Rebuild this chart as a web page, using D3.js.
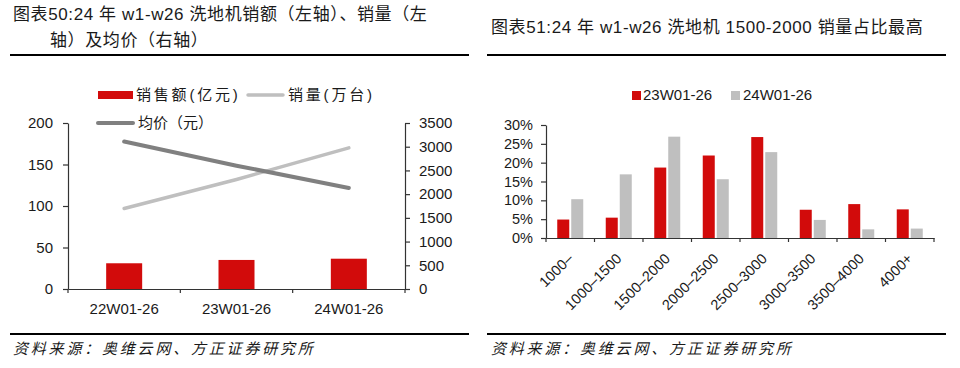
<!DOCTYPE html>
<html><head><meta charset="utf-8">
<script src="https://cdn.jsdelivr.net/npm/d3@7"></script>
<style>
body{margin:0;background:#fff;}
svg{display:block;}
text{font-family:"Liberation Sans","Noto Sans CJK SC",sans-serif;fill:#1a1a1a;}
</style></head>
<body>
<svg id="c" width="960" height="368"></svg>
<script>
// ---- Left chart data ----
const periods = ["22W01-26","23W01-26","24W01-26"];
const salesAmount = [31, 35, 36.5];      // 销售额(亿元) left axis
const salesVolume = [97, 132, 170];      // 销量(万台) left axis
const avgPrice = [3110, 2600, 2130];     // 均价(元) right axis
const leftTicks = [0,50,100,150,200];
const rightTicks = [0,500,1000,1500,2000,2500,3000,3500];

// ---- Right chart data ----
const priceBands = ["1000–","1000–1500","1500–2000","2000–2500","2500–3000","3000–3500","3500–4000","4000+"];
const share23 = [4.9, 5.4, 18.7, 21.9, 26.8, 7.5, 9.0, 7.6];
const share24 = [10.3, 16.9, 26.9, 15.6, 22.8, 4.8, 2.3, 2.5];
const pctTicks = [0,5,10,15,20,25,30];

const RED = "#D20B0B", LGRAY = "#BFBFBF", DGRAY = "#808080", AX = "#333";
const svg = d3.select("#c");

// ---------- Titles & rules ----------
function title(x, y, str){ svg.append("text").attr("x",x).attr("y",y).attr("font-size",17).attr("letter-spacing","0.6px").attr("fill","#222").text(str); }
title(13, 20, "图表50:24 年 w1-w26 洗地机销额（左轴）、销量（左");
title(50, 46, "轴）及均价（右轴）");
title(491, 33, "图表51:24 年 w1-w26 洗地机 1500-2000 销量占比最高");
[[10,469],[487,946]].forEach(([a,b])=>{
  svg.append("line").attr("x1",a).attr("x2",b).attr("y1",55).attr("y2",55).attr("stroke","#000").attr("stroke-width",2);
  svg.append("line").attr("x1",a).attr("x2",b).attr("y1",334).attr("y2",334).attr("stroke","#000").attr("stroke-width",2);
});
[13,491].forEach(x=>{
  svg.append("text").attr("x",x).attr("y",354).attr("font-size",15).attr("font-style","italic")
    .attr("letter-spacing","2.8px").attr("fill","#222").text("资料来源：奥维云网、方正证券研究所");
});

// ---------- Left chart ----------
const x = d3.scaleBand().domain(periods).range([68,405]).padding(0);
const yL = d3.scaleLinear().domain([0,200]).range([289,123]);
const yR = d3.scaleLinear().domain([0,3500]).range([289,123]);
const barW = 36;

svg.append("g").selectAll("rect").data(periods).join("rect")
  .attr("x",d=>x(d)+x.bandwidth()/2-barW/2).attr("width",barW)
  .attr("y",(d,i)=>yL(salesAmount[i])).attr("height",(d,i)=>yL(0)-yL(salesAmount[i]))
  .attr("fill",RED);

const lineL = d3.line().x((d,i)=>x(periods[i])+x.bandwidth()/2).y(d=>yL(d));
const lineR = d3.line().x((d,i)=>x(periods[i])+x.bandwidth()/2).y(d=>yR(d));
svg.append("path").attr("d",lineL(salesVolume)).attr("fill","none").attr("stroke",LGRAY).attr("stroke-width",3.5).attr("stroke-linecap","round");
svg.append("path").attr("d",lineR(avgPrice)).attr("fill","none").attr("stroke",DGRAY).attr("stroke-width",4).attr("stroke-linecap","round");

// left axis
const gL = svg.append("g").attr("transform","translate(68,0)")
  .call(d3.axisLeft(yL).tickValues(leftTicks).tickSize(5).tickSizeOuter(0).tickPadding(10));
gL.selectAll("text").attr("font-size",15);
// right axis
const gR = svg.append("g").attr("transform","translate(405,0)")
  .call(d3.axisRight(yR).tickValues(rightTicks).tickFormat(d3.format("d")).tickSize(5).tickSizeOuter(0).tickPadding(9));
gR.selectAll("text").attr("font-size",15);
// bottom axis
const gB = svg.append("g").attr("transform","translate(0,289)")
  .call(d3.axisBottom(x).tickSize(0).tickSizeOuter(0).tickPadding(14));
gB.selectAll("text").attr("font-size",15).attr("dy","0.71em");
const edges = periods.map(d=>x(d)).concat([x.range()[1]]);
gB.selectAll("line.edge").data(edges).join("line").attr("class","edge")
  .attr("x1",d=>d).attr("x2",d=>d).attr("y1",0).attr("y2",4).attr("stroke",AX).attr("stroke-width",1.2);
[gL,gR,gB].forEach(g=>g.selectAll("path.domain, .tick line").attr("stroke",AX).attr("stroke-width",1.2));

// left legend
svg.append("rect").attr("x",98).attr("y",91).attr("width",35).attr("height",8).attr("fill",RED);
svg.append("text").attr("x",136).attr("y",100).attr("font-size",15).attr("letter-spacing","2.8px").text("销售额(亿元)");
svg.append("line").attr("x1",248).attr("x2",283).attr("y1",95).attr("y2",95).attr("stroke",LGRAY).attr("stroke-width",3.5).attr("stroke-linecap","round");
svg.append("text").attr("x",288).attr("y",100).attr("font-size",15).attr("letter-spacing","2.8px").text("销量(万台)");
svg.append("line").attr("x1",98).attr("x2",133).attr("y1",123).attr("y2",123).attr("stroke",DGRAY).attr("stroke-width",4).attr("stroke-linecap","round");
svg.append("text").attr("x",138).attr("y",128).attr("font-size",15).text("均价（元）");

// ---------- Right chart ----------
const x2 = d3.scaleBand().domain(priceBands).range([546,934]).padding(0);
const y2 = d3.scaleLinear().domain([0,30]).range([238,125]);
const bw = 12;
svg.append("g").selectAll("rect").data(priceBands).join("rect")
  .attr("x",d=>x2(d)+x2.bandwidth()/2-bw-1).attr("width",bw)
  .attr("y",(d,i)=>y2(share23[i])).attr("height",(d,i)=>y2(0)-y2(share23[i])).attr("fill",RED);
svg.append("g").selectAll("rect").data(priceBands).join("rect")
  .attr("x",d=>x2(d)+x2.bandwidth()/2+1).attr("width",bw)
  .attr("y",(d,i)=>y2(share24[i])).attr("height",(d,i)=>y2(0)-y2(share24[i])).attr("fill",LGRAY);

const g2L = svg.append("g").attr("transform","translate(546,0)")
  .call(d3.axisLeft(y2).tickValues(pctTicks).tickFormat(d=>d+"%").tickSize(5).tickSizeOuter(0).tickPadding(8));
g2L.selectAll("text").attr("font-size",14.5);
const g2B = svg.append("g").attr("transform","translate(0,238)")
  .call(d3.axisBottom(x2).tickSize(0).tickSizeOuter(0).tickPadding(0));
g2B.selectAll("text").attr("font-size",14.5).attr("text-anchor","end")
  .attr("transform","translate(0,18) rotate(-45)").attr("dy","0.35em").attr("y",0);
const edges2 = priceBands.map(d=>x2(d)).concat([x2.range()[1]]);
g2B.selectAll("line.edge").data(edges2).join("line").attr("class","edge")
  .attr("x1",d=>d).attr("x2",d=>d).attr("y1",0).attr("y2",4).attr("stroke",AX).attr("stroke-width",1.2);
[g2L,g2B].forEach(g=>g.selectAll("path.domain, .tick line").attr("stroke",AX).attr("stroke-width",1.2));

// right legend
svg.append("rect").attr("x",632).attr("y",91).attr("width",9).attr("height",9).attr("fill",RED);
svg.append("text").attr("x",643).attr("y",100).attr("font-size",15).text("23W01-26");
svg.append("rect").attr("x",731).attr("y",91).attr("width",9).attr("height",9).attr("fill",LGRAY);
svg.append("text").attr("x",743).attr("y",100).attr("font-size",15).text("24W01-26");
</script>
</body></html>
